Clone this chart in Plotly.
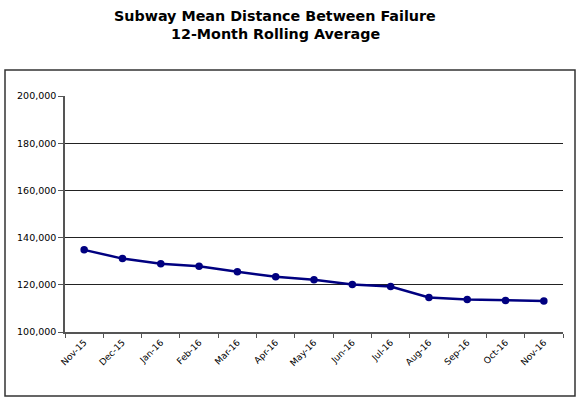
import plotly.graph_objects as go

months = ["Nov-15", "Dec-15", "Jan-16", "Feb-16", "Mar-16", "Apr-16", "May-16",
          "Jun-16", "Jul-16", "Aug-16", "Sep-16", "Oct-16", "Nov-16"]
mdbf = [134800, 131100, 128900, 127900, 125500, 123400, 122100,
        120100, 119300, 114600, 113800, 113400, 113100]
y_ticks = [100000, 120000, 140000, 160000, 180000, 200000]
title_lines = ["Subway Mean Distance Between Failure", "12-Month Rolling Average"]

W, H = 581, 404
L, R, T, B = 65, 563, 96, 332
pw, ph = R - L, B - T

fig = go.Figure()
fig.add_trace(go.Scatter(
    x=months, y=mdbf, mode="lines+markers",
    line=dict(color="#000080", width=2.5),
    marker=dict(color="#000080", size=7.5),
    hoverinfo="x+y", showlegend=False,
))

fig.add_shape(type="rect", xref="paper", yref="paper",
              x0=(5 - L) / pw, x1=(575 - L) / pw,
              y0=(B - 396) / ph, y1=(B - 70) / ph,
              line=dict(color="#333333", width=1.5), layer="below")

for txt, py in zip(title_lines, [16, 34]):
    fig.add_annotation(text=f"<b>{txt}</b>", xref="paper", yref="paper",
                       x=(275 - L) / pw, y=(B - py) / ph,
                       xanchor="center", yanchor="middle", showarrow=False,
                       font=dict(family="DejaVu Sans", size=14.3, color="black"))

fig.update_layout(
    width=W, height=H,
    margin=dict(l=L, r=W - R, t=T, b=H - B, pad=0),
    paper_bgcolor="white", plot_bgcolor="white",
    font=dict(family="DejaVu Sans", size=9, color="black"),
    xaxis=dict(type="category", tickangle=-45, tickson="boundaries",
               ticks="outside", ticklen=4, tickcolor="#555555",
               showline=True, linecolor="#555555", linewidth=1.5,
               showgrid=False, range=[-0.5, 12.5],
               tickfont=dict(family="DejaVu Sans", size=9)),
    yaxis=dict(range=[100000, 200000], tickvals=y_ticks, tickformat=",d",
               ticks="outside", ticklen=5, tickcolor="#555555",
               showline=True, linecolor="#555555", linewidth=1.5,
               showgrid=True, gridcolor="#222222", gridwidth=1,
               zeroline=False, tickfont=dict(family="DejaVu Sans", size=9.5)),
)

fig.write_html("out.html", config={"displayModeBar": False},
               post_script="document.body.style.margin='0';")
